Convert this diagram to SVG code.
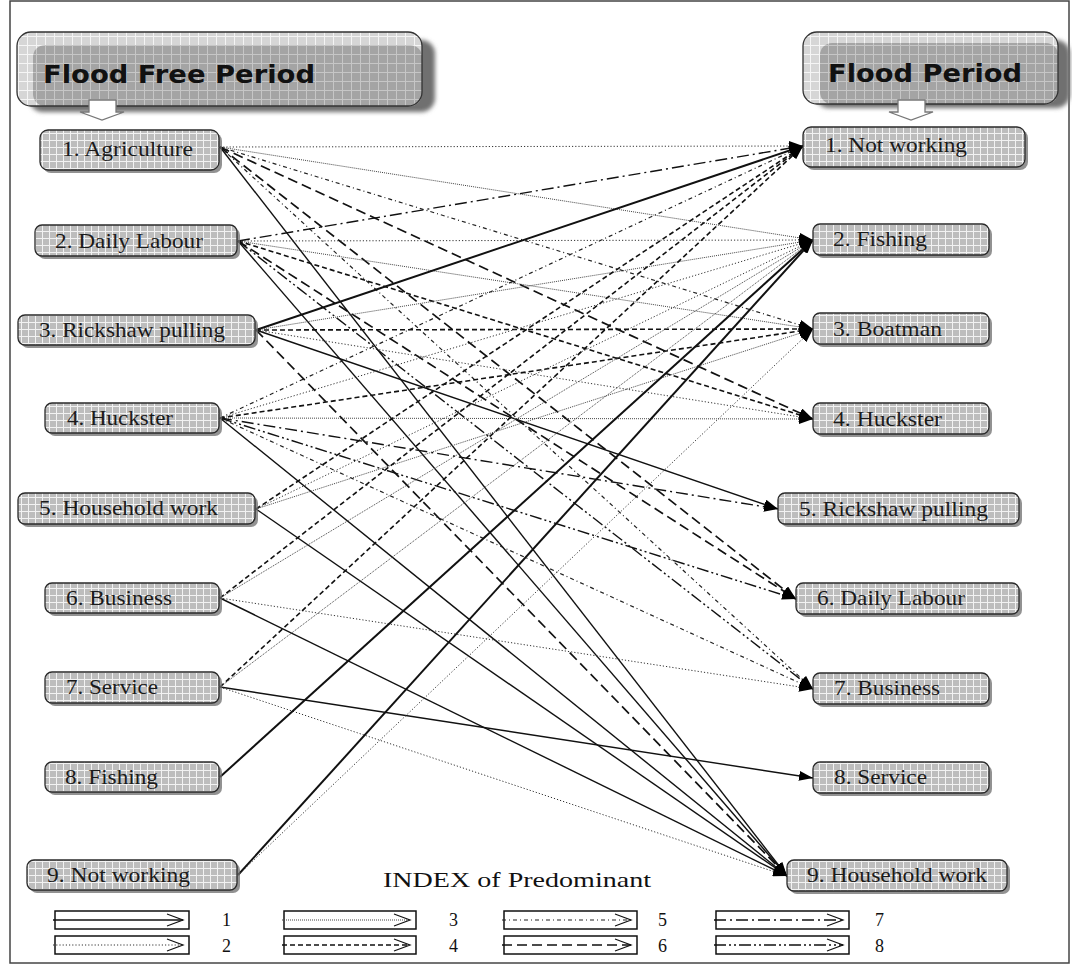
<svg xmlns="http://www.w3.org/2000/svg" width="1072" height="964" viewBox="0 0 1072 964">
<style>
.lbl{font-family:"Liberation Serif","Times New Roman",serif;font-size:21px;fill:#1a1a1a}
.hdr{font-family:"DejaVu Sans","Liberation Sans",sans-serif;font-weight:bold;font-size:25px;fill:#111}
.leg{font-family:"Liberation Serif","Times New Roman",serif;font-size:18px;fill:#111}
.idx{font-family:"Liberation Serif","Times New Roman",serif;font-size:22px;fill:#111}
.box{fill:url(#gridN);stroke:#2a2a2a;stroke-width:1.3}
.shd{fill:#6e6e6e;opacity:.75}
.s1{stroke:#111;stroke-width:1.4;fill:none}
.s1b{stroke:#111;stroke-width:2;fill:none}
.s2{stroke:#333;stroke-width:1;stroke-dasharray:1.2 2;fill:none}
.s3{stroke:#444;stroke-width:1;stroke-dasharray:1 1;fill:none}
.s4{stroke:#111;stroke-width:1.6;stroke-dasharray:5 3;fill:none}
.s5{stroke:#222;stroke-width:1.2;stroke-dasharray:4 3 1 3;fill:none}
.s6{stroke:#111;stroke-width:1.7;stroke-dasharray:10 5;fill:none}
.s7{stroke:#111;stroke-width:1.4;stroke-dasharray:12 4 2 4;fill:none}
.s8{stroke:#111;stroke-width:1.4;stroke-dasharray:12 3 2 3 2 3;fill:none}
.lgbox{fill:#fff;stroke:#111;stroke-width:1.5}
.chev{fill:none;stroke:#111;stroke-width:1.2}
</style>
<defs>
<pattern id="gridN" width="7" height="7" patternUnits="userSpaceOnUse">
<rect width="7" height="7" fill="#bdbdbd"/>
<path d="M0,0.5 H7 M0.5,0 V7" stroke="#f2f2f2" stroke-width="1"/>
</pattern>
<pattern id="gridH1" width="9" height="9" patternUnits="userSpaceOnUse">
<rect width="9" height="9" fill="#d6d6d6"/>
<path d="M0,0.5 H9 M0.5,0 V9" stroke="#f5f5f5" stroke-width="1"/>
</pattern>
<pattern id="gridH2" width="9" height="9" patternUnits="userSpaceOnUse">
<rect width="9" height="9" fill="#a4a4a4"/>
<path d="M0,0.5 H9 M0.5,0 V9" stroke="#c6c6c6" stroke-width="1"/>
</pattern>
<filter id="blur" x="-10%" y="-10%" width="120%" height="130%"><feGaussianBlur stdDeviation="2"/></filter>
<marker id="ah" markerUnits="userSpaceOnUse" markerWidth="15" markerHeight="10" refX="14" refY="5" orient="auto"><path d="M0,0 L14,5 L0,10 z" fill="#000"/></marker>
</defs>
<rect x="0" y="0" width="1072" height="964" fill="#fff"/>
<rect x="10" y="1" width="1059" height="962" fill="none" stroke="#444" stroke-width="1.5"/>

<g id="header-left">
<rect x="29" y="40" width="406" height="72" rx="14" fill="#707070" filter="url(#blur)"/>
<rect x="17" y="32" width="405" height="74" rx="14" fill="url(#gridH1)"/>
<rect x="33" y="45" width="389" height="61" rx="12" fill="url(#gridH2)"/>
<rect x="17" y="32" width="405" height="74" rx="14" fill="none" stroke="#333" stroke-width="1.3"/>
<text class="hdr" x="43" y="83" textLength="272" lengthAdjust="spacingAndGlyphs">Flood Free Period</text>
<polygon points="89,100 116,100 116,112 124,112 102,120 80,112 89,112" fill="#fff" stroke="#777" stroke-width="1.3"/>
</g>
<g id="header-right">
<rect x="815" y="40" width="255" height="68" rx="14" fill="#707070" filter="url(#blur)"/>
<rect x="803" y="32" width="255" height="72" rx="14" fill="url(#gridH1)"/>
<rect x="820" y="43" width="238" height="61" rx="12" fill="url(#gridH2)"/>
<rect x="803" y="32" width="255" height="72" rx="14" fill="none" stroke="#333" stroke-width="1.3"/>
<text class="hdr" x="828" y="82" textLength="194" lengthAdjust="spacingAndGlyphs">Flood Period</text>
<polygon points="898,100 925,100 925,112 933,112 911,120 889,112 898,112" fill="#fff" stroke="#777" stroke-width="1.3"/>
</g>

<g id="connectors" marker-end="url(#ah)">
<line class="s2" x1="220" y1="147" x2="803" y2="146"/>
<line class="s3" x1="220" y1="147" x2="813" y2="240"/>
<line class="s5" x1="220" y1="147" x2="813" y2="329"/>
<line class="s6" x1="220" y1="147" x2="813" y2="419"/>
<line class="s6" x1="220" y1="147" x2="796" y2="599"/>
<line class="s5" x1="220" y1="147" x2="813" y2="689"/>
<line class="s1" x1="220" y1="147" x2="787" y2="876"/>

<line class="s7" x1="238" y1="241" x2="803" y2="146"/>
<line class="s2" x1="238" y1="241" x2="813" y2="240"/>
<line class="s3" x1="238" y1="241" x2="813" y2="329"/>
<line class="s4" x1="238" y1="241" x2="813" y2="419"/>
<line class="s6" x1="238" y1="241" x2="796" y2="599"/>
<line class="s8" x1="238" y1="241" x2="813" y2="689"/>
<line class="s1" x1="238" y1="241" x2="787" y2="876"/>

<line class="s1b" x1="256" y1="330" x2="803" y2="146"/>
<line class="s3" x1="256" y1="330" x2="813" y2="240"/>
<line class="s4" x1="256" y1="330" x2="813" y2="329"/>
<line class="s2" x1="256" y1="330" x2="813" y2="419"/>
<line class="s1" x1="256" y1="330" x2="778" y2="509"/>
<line class="s6" x1="256" y1="330" x2="787" y2="876"/>

<line class="s5" x1="220" y1="418" x2="803" y2="146"/>
<line class="s2" x1="220" y1="418" x2="813" y2="240"/>
<line class="s4" x1="220" y1="418" x2="813" y2="329"/>
<line class="s3" x1="220" y1="418" x2="813" y2="419"/>
<line class="s7" x1="220" y1="418" x2="778" y2="509"/>
<line class="s8" x1="220" y1="418" x2="796" y2="599"/>
<line class="s5" x1="220" y1="418" x2="813" y2="689"/>
<line class="s1" x1="220" y1="418" x2="787" y2="876"/>

<line class="s4" x1="256" y1="509" x2="803" y2="146"/>
<line class="s2" x1="256" y1="509" x2="813" y2="240"/>
<line class="s3" x1="256" y1="509" x2="813" y2="329"/>
<line class="s1" x1="256" y1="509" x2="787" y2="876"/>

<line class="s4" x1="220" y1="598" x2="803" y2="146"/>
<line class="s3" x1="220" y1="598" x2="813" y2="240"/>
<line class="s2" x1="220" y1="598" x2="813" y2="689"/>
<line class="s1" x1="220" y1="598" x2="787" y2="876"/>

<line class="s4" x1="220" y1="687" x2="803" y2="146"/>
<line class="s3" x1="220" y1="687" x2="813" y2="240"/>
<line class="s1" x1="220" y1="687" x2="813" y2="778"/>
<line class="s2" x1="220" y1="687" x2="787" y2="876"/>

<line class="s1b" x1="220" y1="777" x2="813" y2="240"/>

<line class="s1b" x1="238" y1="875" x2="813" y2="240"/>
<line class="s2" x1="238" y1="875" x2="813" y2="329"/>
</g>

<g id="src-agriculture"><rect class="shd" x="43" y="133" width="179" height="40" rx="8"/><rect class="box" x="40" y="130" width="179" height="40" rx="8"/><text class="lbl" x="62" y="156" textLength="131" lengthAdjust="spacingAndGlyphs">1. Agriculture</text></g>
<g id="src-daily-labour"><rect class="shd" x="38" y="228" width="202" height="31" rx="7"/><rect class="box" x="35" y="225" width="202" height="31" rx="7"/><text class="lbl" x="55" y="248" textLength="148" lengthAdjust="spacingAndGlyphs">2. Daily Labour</text></g>
<g id="src-rickshaw"><rect class="shd" x="21" y="318" width="237" height="30" rx="7"/><rect class="box" x="18" y="315" width="237" height="30" rx="7"/><text class="lbl" x="39" y="337" textLength="186" lengthAdjust="spacingAndGlyphs">3. Rickshaw pulling</text></g>
<g id="src-huckster"><rect class="shd" x="48" y="406" width="174" height="30" rx="7"/><rect class="box" x="45" y="403" width="174" height="30" rx="7"/><text class="lbl" x="67" y="425" textLength="106" lengthAdjust="spacingAndGlyphs">4. Huckster</text></g>
<g id="src-household"><rect class="shd" x="21" y="496" width="237" height="31" rx="7"/><rect class="box" x="18" y="493" width="237" height="31" rx="7"/><text class="lbl" x="39" y="515" textLength="179" lengthAdjust="spacingAndGlyphs">5. Household work</text></g>
<g id="src-business"><rect class="shd" x="48" y="586" width="174" height="30" rx="7"/><rect class="box" x="45" y="583" width="174" height="30" rx="7"/><text class="lbl" x="66" y="605" textLength="106" lengthAdjust="spacingAndGlyphs">6. Business</text></g>
<g id="src-service"><rect class="shd" x="48" y="675" width="174" height="31" rx="7"/><rect class="box" x="45" y="672" width="174" height="31" rx="7"/><text class="lbl" x="66" y="694" textLength="92" lengthAdjust="spacingAndGlyphs">7. Service</text></g>
<g id="src-fishing"><rect class="shd" x="48" y="765" width="174" height="30" rx="7"/><rect class="box" x="45" y="762" width="174" height="30" rx="7"/><text class="lbl" x="65" y="784" textLength="93" lengthAdjust="spacingAndGlyphs">8. Fishing</text></g>
<g id="src-not-working"><rect class="shd" x="30" y="863" width="210" height="30" rx="7"/><rect class="box" x="27" y="860" width="210" height="30" rx="7"/><text class="lbl" x="47" y="882" textLength="143" lengthAdjust="spacingAndGlyphs">9. Not working</text></g>

<g id="dst-not-working"><rect class="shd" x="806" y="130" width="222" height="40" rx="8"/><rect class="box" x="803" y="127" width="222" height="40" rx="8"/><text class="lbl" x="825" y="152" textLength="142" lengthAdjust="spacingAndGlyphs">1. Not working</text></g>
<g id="dst-fishing"><rect class="shd" x="816" y="227" width="176" height="31" rx="7"/><rect class="box" x="813" y="224" width="176" height="31" rx="7"/><text class="lbl" x="833" y="246" textLength="94" lengthAdjust="spacingAndGlyphs">2. Fishing</text></g>
<g id="dst-boatman"><rect class="shd" x="816" y="316" width="176" height="31" rx="7"/><rect class="box" x="813" y="313" width="176" height="31" rx="7"/><text class="lbl" x="833" y="336" textLength="109" lengthAdjust="spacingAndGlyphs">3. Boatman</text></g>
<g id="dst-huckster"><rect class="shd" x="816" y="406" width="176" height="31" rx="7"/><rect class="box" x="813" y="403" width="176" height="31" rx="7"/><text class="lbl" x="833" y="426" textLength="109" lengthAdjust="spacingAndGlyphs">4. Huckster</text></g>
<g id="dst-rickshaw"><rect class="shd" x="781" y="496" width="241" height="31" rx="7"/><rect class="box" x="778" y="493" width="241" height="31" rx="7"/><text class="lbl" x="799" y="516" textLength="189" lengthAdjust="spacingAndGlyphs">5. Rickshaw pulling</text></g>
<g id="dst-daily-labour"><rect class="shd" x="799" y="586" width="223" height="31" rx="7"/><rect class="box" x="796" y="583" width="223" height="31" rx="7"/><text class="lbl" x="817" y="605" textLength="148" lengthAdjust="spacingAndGlyphs">6. Daily Labour</text></g>
<g id="dst-business"><rect class="shd" x="816" y="676" width="176" height="31" rx="7"/><rect class="box" x="813" y="673" width="176" height="31" rx="7"/><text class="lbl" x="834" y="695" textLength="106" lengthAdjust="spacingAndGlyphs">7. Business</text></g>
<g id="dst-service"><rect class="shd" x="816" y="765" width="176" height="31" rx="7"/><rect class="box" x="813" y="762" width="176" height="31" rx="7"/><text class="lbl" x="834" y="784" textLength="93" lengthAdjust="spacingAndGlyphs">8. Service</text></g>
<g id="dst-household"><rect class="shd" x="790" y="863" width="220" height="31" rx="7"/><rect class="box" x="787" y="860" width="220" height="31" rx="7"/><text class="lbl" x="807" y="882" textLength="180" lengthAdjust="spacingAndGlyphs">9. Household work</text></g>

<g id="legend">
<text class="idx" x="383" y="887" textLength="268" lengthAdjust="spacingAndGlyphs">INDEX of Predominant</text>
<rect class="lgbox" x="55" y="911" width="134" height="18"/><line class="s1" x1="53" y1="920" x2="183" y2="920"/><polyline class="chev" points="167,914 183,920 167,926"/><text class="leg" x="222" y="926">1</text>
<rect class="lgbox" x="55" y="936" width="134" height="18"/><line class="s2" x1="53" y1="945" x2="183" y2="945"/><polyline class="chev" points="167,939 183,945 167,951"/><text class="leg" x="222" y="952">2</text>
<rect class="lgbox" x="284" y="911" width="132" height="18"/><line class="s3" x1="282" y1="920" x2="410" y2="920"/><polyline class="chev" points="394,914 410,920 394,926"/><text class="leg" x="449" y="926">3</text>
<rect class="lgbox" x="284" y="936" width="132" height="18"/><line class="s4" x1="282" y1="945" x2="410" y2="945"/><polyline class="chev" points="394,939 410,945 394,951"/><text class="leg" x="449" y="952">4</text>
<rect class="lgbox" x="504" y="911" width="133" height="18"/><line class="s5" x1="502" y1="920" x2="631" y2="920"/><polyline class="chev" points="615,914 631,920 615,926"/><text class="leg" x="658" y="926">5</text>
<rect class="lgbox" x="504" y="936" width="133" height="18"/><line class="s6" x1="502" y1="945" x2="631" y2="945"/><polyline class="chev" points="615,939 631,945 615,951"/><text class="leg" x="658" y="952">6</text>
<rect class="lgbox" x="716" y="911" width="133" height="18"/><line class="s7" x1="714" y1="920" x2="843" y2="920"/><polyline class="chev" points="827,914 843,920 827,926"/><text class="leg" x="875" y="926">7</text>
<rect class="lgbox" x="716" y="936" width="133" height="18"/><line class="s8" x1="714" y1="945" x2="843" y2="945"/><polyline class="chev" points="827,939 843,945 827,951"/><text class="leg" x="875" y="952">8</text>
</g>
</svg>
